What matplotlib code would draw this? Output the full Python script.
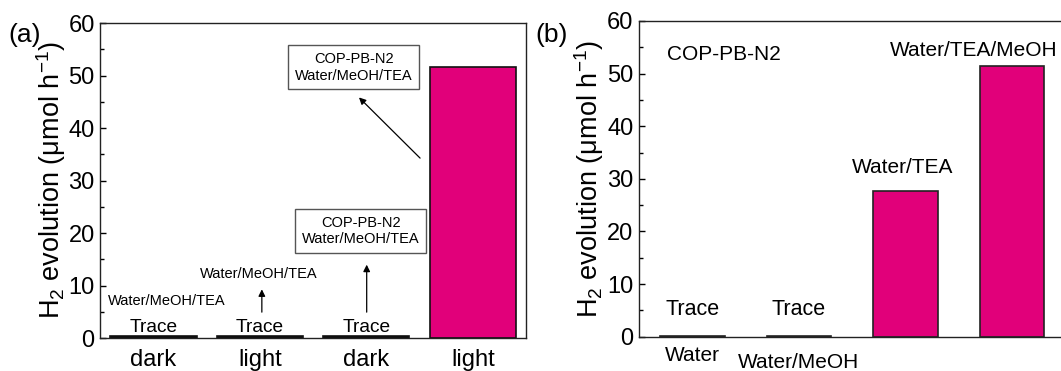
import matplotlib
matplotlib.use("Agg")
import matplotlib.pyplot as plt
from matplotlib.transforms import ScaledTranslation

plt.rcParams['font.family'] = ['Liberation Sans', 'DejaVu Sans']
plt.rcParams['mathtext.fontset'] = 'custom'
plt.rcParams['mathtext.rm'] = 'Liberation Sans'

# ---- data ----
a_categories = ["dark", "light", "dark", "light"]
a_values = [0.3, 0.3, 0.3, 51.6]
b_categories = ["Water", "Water/MeOH", "", ""]
b_values = [0.2, 0.2, 27.7, 51.4]
b_bar_labels = ["Trace", "Trace", "Water/TEA", "Water/TEA/MeOH"]
yticks = [0, 10, 20, 30, 40, 50, 60]

PINK = '#E1007A'
ylabel = r'H$_2$ evolution (μmol h$^{-1}$)'

fig = plt.figure(figsize=(10.61, 3.71), dpi=100)
axa = fig.add_axes([0.0945, 0.0889, 0.4013, 0.849])
axb = fig.add_axes([0.6023, 0.0925, 0.4015, 0.851])

def style(ax):
    ax.set_ylim(0, 60)
    ax.set_xlim(-0.5, 3.5)
    ax.set_yticks(yticks)
    ax.set_yticks(range(5, 60, 10), minor=True)
    ax.tick_params(axis='y', which='both', direction='in', length=4, width=1,
                   labelsize=17, pad=4)
    ax.tick_params(axis='y', which='minor', length=3)
    ax.tick_params(axis='x', length=0, labelsize=17, pad=8)
    for s in ax.spines.values():
        s.set_linewidth(1.0)
        s.set_color('#222222')
    ax.set_ylabel(ylabel, fontsize=19.5, labelpad=0.5)

# ---- panel a ----
xa = range(len(a_values))
colors_a = ['black', 'black', 'black', PINK]
axa.bar(xa, a_values, width=0.81, color=colors_a, edgecolor='#111111', linewidth=1.2)
style(axa)
axa.set_xticks(list(xa))
axa.set_xticklabels(a_categories)
for i in range(3):
    axa.text(i, 1.2, "Trace", ha='center', va='baseline', fontsize=13.8)
axa.text(0.127, 6.3, "Water/MeOH/TEA", ha='center', va='baseline', fontsize=10.5)
axa.text(0.99, 11.4, "Water/MeOH/TEA", ha='center', va='baseline', fontsize=10.5)
arrowprops = dict(arrowstyle='-|>', color='black', lw=0.9, mutation_scale=10)
axa.annotate("", xy=(1.018, 9.8), xytext=(1.018, 4.4), arrowprops=arrowprops)
axa.annotate("", xy=(2.003, 14.5), xytext=(2.003, 4.4), arrowprops=arrowprops)
axa.annotate("", xy=(1.912, 46.2), xytext=(2.523, 33.9), arrowprops=arrowprops)
boxprops = dict(boxstyle='square,pad=0.45', facecolor='white', edgecolor='#555555', lw=1.0)
axa.text(1.948, 20.4, "COP-PB-N2\nWater/MeOH/TEA", ha='center', va='center',
         fontsize=10.5, linespacing=1.25, bbox=boxprops)
axa.text(1.88, 51.6, "COP-PB-N2\nWater/MeOH/TEA", ha='center', va='center',
         fontsize=10.5, linespacing=1.25, bbox=boxprops)
fig.text(0.008, 0.906, "(a)", fontsize=19, ha='left', va='center')

# ---- panel b ----
xb = range(len(b_values))
axb.bar(xb, b_values, width=0.605, color=['#7a1020', '#7a1020', PINK, PINK],
        edgecolor='#222222', linewidth=1.2)
style(axb)
axb.spines['right'].set_visible(False)
axb.set_xticks(list(xb))
axb.set_xticklabels(b_categories)
axb.tick_params(axis='x', labelsize=15, pad=7)
lab = axb.get_xticklabels()[1]
lab.set_transform(lab.get_transform() + ScaledTranslation(0, -4.5 / 72, fig.dpi_scale_trans))
label_pos = [(0, 4.1), (1, 4.1), (1.977, 31.1), (2.64, 53.3)]
label_sizes = [15.5, 15.5, 15, 15]
for (x, y), t, fs in zip(label_pos, b_bar_labels, label_sizes):
    axb.text(x, y, t, ha='center', va='baseline', fontsize=fs)
axb.text(-0.237, 52.6, "COP-PB-N2", ha='left', va='baseline', fontsize=15)
fig.text(0.505, 0.906, "(b)", fontsize=19, ha='left', va='center')

fig.savefig("out.png", dpi=100)
